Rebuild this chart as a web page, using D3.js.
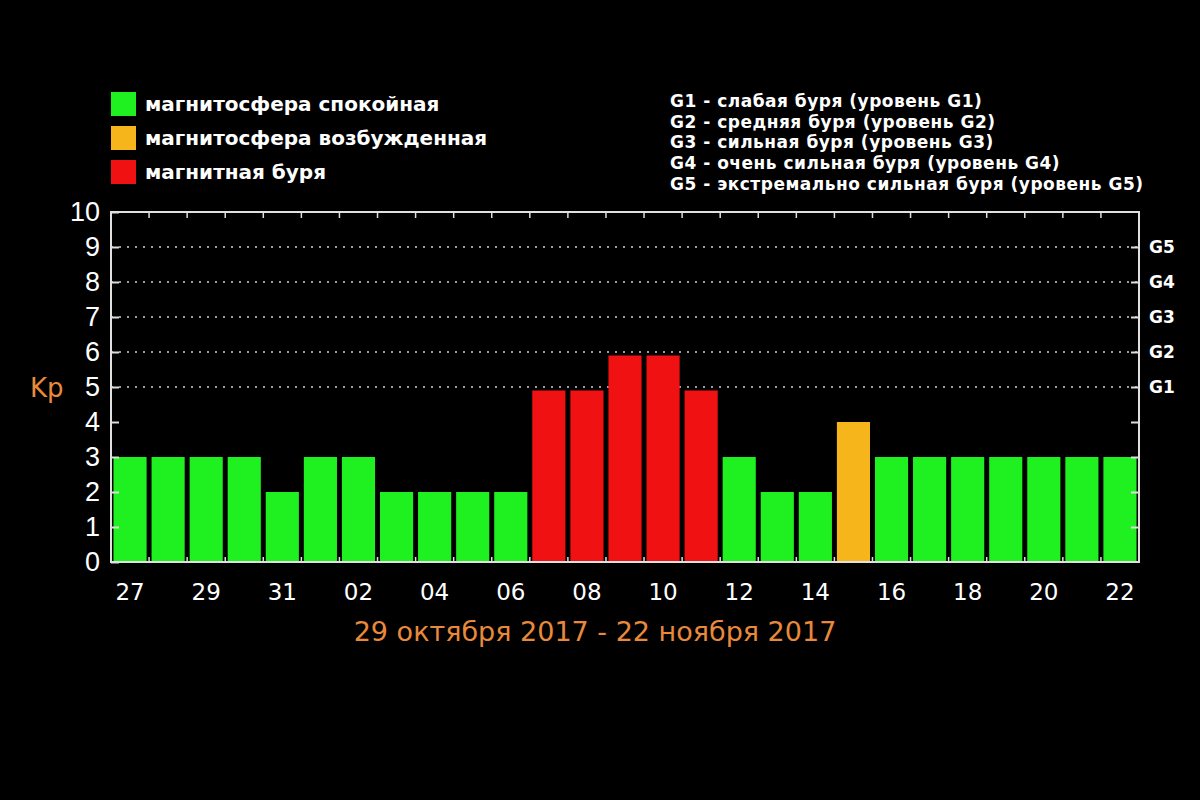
<!DOCTYPE html>
<html><head><meta charset="utf-8">
<script src="https://cdn.jsdelivr.net/npm/d3@7"></script>
<style>html,body{margin:0;padding:0;background:#000;}svg{display:block;}</style>
</head><body>
<svg id="chart" width="1200" height="800"></svg>
<script>
const days = ["27","28","29","30","31","01","02","03","04","05","06","07","08","09","10","11","12","13","14","15","16","17","18","19","20","21","22"];
const kp = [3,3,3,3,2,3,3,2,2,2,2,4.9,4.9,5.9,5.9,4.9,3,2,2,4,3,3,3,3,3,3,3];
const status = ["q","q","q","q","q","q","q","q","q","q","q","s","s","s","s","s","q","q","q","a","q","q","q","q","q","q","q"];
const statusColors = {q:"#1ff01f", a:"#f7b51c", s:"#f01212"};
const legendLabels = ["магнитосфера спокойная","магнитосфера возбужденная","магнитная буря"];
const legendKeys = ["q","a","s"];
const gLevels = ["G1","G2","G3","G4","G5"];
const gValues = [5,6,7,8,9];
const gDescriptions = [
  "G1 - слабая буря (уровень G1)",
  "G2 - средняя буря (уровень G2)",
  "G3 - сильная буря (уровень G3)",
  "G4 - очень сильная буря (уровень G4)",
  "G5 - экстремально сильная буря (уровень G5)"
];
const yTicks = [0,1,2,3,4,5,6,7,8,9,10];
const gridValues = [5,6,7,8,9];
const subtitle = "29 октября 2017 - 22 ноября 2017";
const yTitle = "Kp";

const svg = d3.select("#chart");
svg.append("rect").attr("width",1200).attr("height",800).attr("fill","#000");

const L = 111, R = 1139, T = 212, B = 562;
const x = d3.scaleBand().domain(days).range([L, R]).paddingInner(0.13).paddingOuter(0.065);
const y = d3.scaleLinear().domain([0,10]).range([B, T]);
const orange = "#e8893c";

// gridlines
svg.append("g").selectAll("line").data(gridValues).join("line")
  .attr("x1", L).attr("x2", R).attr("y1", d=>y(d)).attr("y2", d=>y(d))
  .attr("stroke","#cfcfcf").attr("stroke-width",1.6).attr("stroke-dasharray","2,6");

// bars
svg.append("g").selectAll("rect").data(days).join("rect")
  .attr("x", d=>x(d)).attr("width", x.bandwidth())
  .attr("y", (d,i)=>y(kp[i])).attr("height", (d,i)=>y(0)-y(kp[i]))
  .attr("fill", (d,i)=>statusColors[status[i]]);

// boundary ticks (top & bottom)
const bounds = days.slice(1).map(d => x(d) - x.step()*x.paddingInner()/2);
const tk = svg.append("g").attr("stroke","#dddddd").attr("stroke-width",1.5);
tk.selectAll(".tb").data(bounds).join("line").attr("class","tb")
  .attr("x1",d=>d).attr("x2",d=>d).attr("y1",T).attr("y2",T+6);
tk.selectAll(".bb").data(bounds).join("line").attr("class","bb")
  .attr("x1",d=>d).attr("x2",d=>d).attr("y1",B).attr("y2",B-5);

// left axis
const yAxisL = d3.axisLeft(y).tickValues(yTicks).tickSize(-8).tickPadding(10).tickFormat(d3.format("d"));
const gl = svg.append("g").attr("transform",`translate(${L},0)`).call(yAxisL);
gl.select(".domain").remove();
gl.selectAll("line").attr("stroke","#dddddd").attr("stroke-width",2);
gl.selectAll("text").attr("fill","#fff").attr("font-family","Liberation Sans, sans-serif")
  .attr("font-size",27).attr("dx",-1);

// right axis
const yAxisR = d3.axisRight(y).tickValues(yTicks.filter(d=>d>0&&d<10)).tickSize(-8).tickFormat("");
const gr = svg.append("g").attr("transform",`translate(${R},0)`).call(yAxisR);
gr.select(".domain").remove();
gr.selectAll("line").attr("stroke","#dddddd").attr("stroke-width",2);
svg.append("g").selectAll("text").data(gLevels).join("text")
  .attr("x", R+10).attr("y",(d,i)=>y(gValues[i])).attr("dy","0.36em")
  .attr("fill","#fff").attr("font-family","DejaVu Sans, sans-serif").attr("font-weight","bold")
  .attr("font-size",17).text(d=>d);

// bottom axis labels
const xAxis = d3.axisBottom(x).tickValues(days.filter((d,i)=>i%2===0)).tickSize(0).tickPadding(22);
const gx = svg.append("g").attr("transform",`translate(0,${B})`).call(xAxis);
gx.select(".domain").remove();
gx.selectAll("text").attr("fill","#fff").attr("font-family","DejaVu Sans, sans-serif").attr("font-size",23);

// frame
svg.append("rect").attr("x",L).attr("y",T).attr("width",R-L).attr("height",B-T)
  .attr("fill","none").attr("stroke","#e0e0e0").attr("stroke-width",2);

// Kp title
svg.append("text").attr("x",30).attr("y",397).attr("fill",orange)
  .attr("font-family","DejaVu Sans, sans-serif").attr("font-size",26).text(yTitle);

// subtitle
svg.append("text").attr("x",595).attr("y",641).attr("text-anchor","middle").attr("fill",orange)
  .attr("font-family","DejaVu Sans, sans-serif").attr("font-size",27).text(subtitle);

// left legend
const lg = svg.append("g");
legendLabels.forEach((lab,i)=>{
  lg.append("rect").attr("x",111).attr("y",92+i*34).attr("width",25).attr("height",24)
    .attr("fill",statusColors[legendKeys[i]]);
  lg.append("text").attr("x",145).attr("y",111+i*34).attr("fill","#fff")
    .attr("font-family","DejaVu Sans, sans-serif").attr("font-weight","bold").attr("font-size",20).text(lab);
});

// right legend
svg.append("g").selectAll("text").data(gDescriptions).join("text")
  .attr("x",670).attr("y",(d,i)=>107+i*20.7).attr("fill","#fff")
  .attr("font-family","DejaVu Sans, sans-serif").attr("font-weight","bold").attr("font-size",17)
  .attr("letter-spacing",0.5).text(d=>d);
</script>
</body></html>
